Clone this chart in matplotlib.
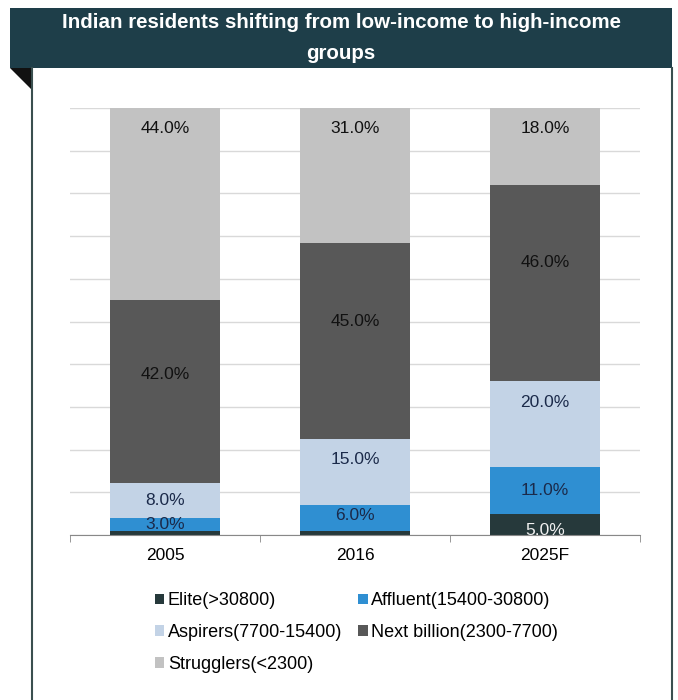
import numpy as np
import matplotlib
matplotlib.use('Agg')
import matplotlib.pyplot as plt
from matplotlib.patches import Rectangle, Polygon
from matplotlib.lines import Line2D

plt.rcParams['font.family'] = ['Liberation Sans', 'DejaVu Sans']

# data (percent of residents)
years = ['2005', '2016', '2025F']
groups = ['Elite(>30800)', 'Affluent(15400-30800)', 'Aspirers(7700-15400)',
          'Next billion(2300-7700)', 'Strugglers(<2300)']
elite = [1, 1, 5]
affluent = [3, 6, 11]
aspirers = [8, 15, 20]
next_billion = [42, 45, 46]
strugglers = [44, 31, 18]
show_label = [[False, False, True], [True, True, True], [True, True, True],
              [True, True, True], [True, True, True]]

colors = ['#26393b', '#2f8fd2', '#c3d3e6', '#585858', '#c2c2c2']
label_colors = ['#f0f0f0', '#1b2a4a', '#1b2a4a', '#111111', '#111111']
# small vertical nudges of the value labels (axis units), as in the original
nudge = [[-1.4, -1.4, -1.4], [0, 0.5, 0], [0, 3.0, 5.0], [3.8, 4.5, 4.8], [0, 0, 0]]

W, H = 678, 700
fig = plt.figure(figsize=(W / 100, H / 100), dpi=100)

def px(x, y):
    # pixel coords (top-left origin) to figure fraction
    return x / W, 1 - y / H

# title banner with the folded corner and the frame
fig.patches.append(Rectangle(px(10, 68), 662 / W, 60 / H, transform=fig.transFigure,
                             facecolor='#1e3e49', edgecolor='none', zorder=0))
fig.patches.append(Polygon([px(10, 68), px(32, 68), px(32, 90)], closed=True,
                           transform=fig.transFigure, facecolor='#111111',
                           edgecolor='none', zorder=0))
for xx in (32, 672):
    fig.lines.append(Line2D([xx / W, xx / W], [1 - 68 / H, 0], transform=fig.transFigure,
                            color='#3a4f4f', lw=1.5))
fig.text(341 / W, 1 - 38 / H, 'Indian residents shifting from low-income to high-income\ngroups',
         ha='center', va='center', color='white', fontsize=14.8, fontweight='bold',
         linespacing=1.75, family=['Liberation Sans Narrow', 'Liberation Sans', 'DejaVu Sans'])

ax = fig.add_axes([70 / W, 1 - 535 / H, 570 / W, 427 / H])

series = np.array([elite, affluent, aspirers, next_billion, strugglers], dtype=float)
shares = series / series.sum(axis=0) * 100
x = np.arange(len(years))
bottom = np.zeros(len(years))
for i, name in enumerate(groups):
    ax.bar(x, shares[i], 0.58, bottom=bottom, color=colors[i], label=name, zorder=2)
    for j in range(len(years)):
        if not show_label[i][j]:
            continue
        if i == 4:
            ypos = bottom[j] + shares[i][j] - 4.7
        else:
            ypos = bottom[j] + shares[i][j] / 2
        ax.text(x[j], ypos + nudge[i][j], f'{series[i][j]:.1f}%', ha='center', va='center',
                fontsize=12.5, color=label_colors[i], zorder=3)
    bottom += shares[i]

ax.set_ylim(0, 100)
ax.set_xlim(-0.5, 2.5)
ax.set_yticks(np.arange(0, 101, 10))
ax.yaxis.grid(True, color='#d9d9d9', lw=1, zorder=0)
ax.tick_params(axis='y', left=False, labelleft=False)
ax.set_xticks(x)
ax.set_xticklabels(years, fontsize=12.5)
ax.tick_params(axis='x', length=0, pad=9)
ax.set_xticks([-0.5, 0.5, 1.5, 2.5], minor=True)
ax.tick_params(axis='x', which='minor', length=5, color='#888888')
for s in ['top', 'right', 'left']:
    ax.spines[s].set_visible(False)
ax.spines['bottom'].set_color('#888888')

# legend filled row by row
handles, labels = ax.get_legend_handles_labels()
order = [0, 2, 4, 1, 3]
fig.legend([handles[k] for k in order], [labels[k] for k in order],
           loc='upper left', bbox_to_anchor=px(148, 585), ncol=2, frameon=False,
           fontsize=13, handlelength=0.5, handleheight=0.5, handletextpad=0.2,
           columnspacing=0.9, labelspacing=0.82, borderaxespad=0)

plt.savefig('out.png', dpi=100)
